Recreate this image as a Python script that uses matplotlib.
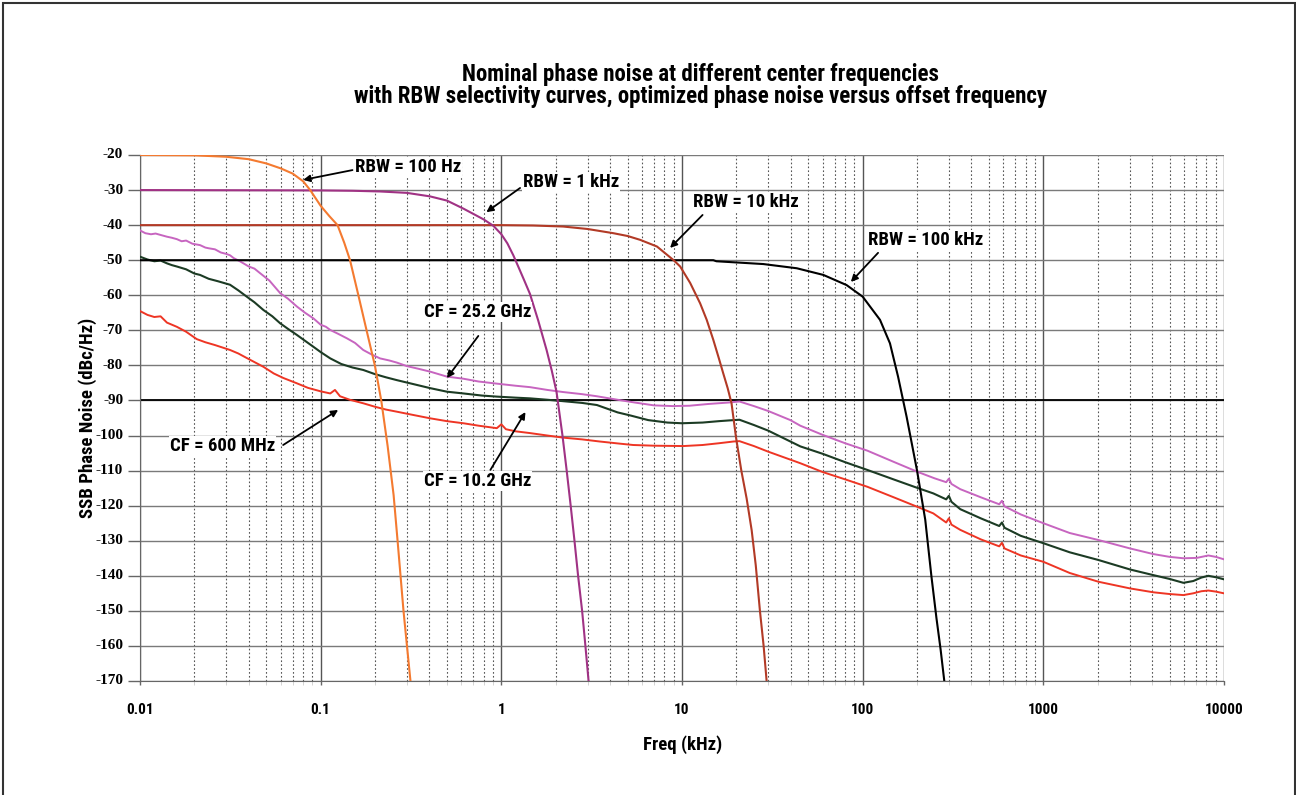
import matplotlib
matplotlib.use('Agg')
import matplotlib.pyplot as plt
from matplotlib import font_manager
from matplotlib.font_manager import FontProperties
from matplotlib.patches import Rectangle
from matplotlib.ticker import LogLocator, NullFormatter


names = {f.name for f in font_manager.fontManager.ttflist}
SANS = next((n for n in ['Roboto Condensed', 'Liberation Sans Narrow', 'Liberation Sans'] if n in names),
            'DejaVu Sans')
SERIF = next((n for n in ['Liberation Serif', 'DejaVu Serif'] if n in names), 'serif')
serif_path = font_manager.findfont(FontProperties(family=SERIF, weight='bold'))
serif_fp = FontProperties(fname=serif_path, size=11)
plt.rcParams['font.family'] = [SANS, 'DejaVu Sans']
plt.rcParams['font.weight'] = 'bold'

# RBW selectivity curves (offset in kHz, level in dBc/Hz)
rbw100_f = [0.01, 0.02, 0.03, 0.04, 0.05, 0.06, 0.07, 0.08, 0.0875, 0.1, 0.112, 0.124, 0.135,
            0.1454, 0.1617, 0.1795, 0.1995, 0.2164, 0.2348, 0.2534, 0.2665, 0.2874, 0.3004, 0.3141]
rbw100_db = [-20.0, -20.1, -20.5, -21.2, -22.4, -23.8, -25.3, -27.5, -30.0, -34.5, -37.5, -40.0, -45.0,
             -50.0, -60.0, -70.0, -80.0, -90.0, -103.0, -117.0, -130.0, -150.0, -160.0, -170.0]

rbw1k_f = [0.01, 0.1, 0.15, 0.213, 0.3, 0.403, 0.5, 0.617, 0.7, 0.8, 0.904, 1.0, 1.08, 1.165,
           1.25, 1.34, 1.44, 1.6, 1.78, 1.9, 2.02, 2.18, 2.3, 2.42, 2.54, 2.66, 2.8, 2.92, 3.04]
rbw1k_db = [-30.0, -30.1, -30.2, -30.4, -30.8, -31.8, -33.0, -35.3, -36.8, -38.4, -40.2, -42.6, -45.2, -48.6,
            -52.2, -55.8, -59.6, -67.2, -75.6, -81.4, -87.5, -100.0, -110.0, -120.0, -130.0, -140.0, -150.0, -160.0, -170.0]

rbw10k_f = [0.01, 1.0, 1.5, 2.2, 3.0, 4.17, 5.0, 5.87, 7.27, 8.99, 9.77, 11.1, 12.6, 13.7, 14.9,
            16.0, 16.9, 17.9, 18.8, 19.9, 21.3, 22.8, 24.3, 25.6, 27.0, 28.3, 29.4]
rbw10k_db = [-40.0, -40.0, -40.1, -40.4, -41.1, -42.3, -43.1, -44.2, -46.1, -50.0, -51.8, -56.5, -62.3, -67.0, -72.7,
             -78.0, -82.2, -86.5, -90.8, -100.5, -110.0, -118.0, -127.0, -137.0, -150.0, -160.0, -170.0]

rbw100k_f = [0.01, 14.9, 15.5, 28.2, 43.2, 60.6, 81.5, 100, 124.7, 141.6, 157, 175, 200,
             222, 240, 256, 270, 283]
rbw100k_db = [-50.0, -50.0, -50.3, -51.1, -52.3, -54.2, -57.1, -60.4, -67.0, -73.7, -83.2, -94.6, -110.0,
              -124.0, -140.0, -152.0, -161.0, -170.0]

# measured phase noise, CF = 25.2 GHz
cf25_f = [0.01, 0.0107, 0.0115, 0.0122, 0.013, 0.0141, 0.015, 0.016, 0.017, 0.018, 0.0195, 0.0215,
          0.023, 0.024, 0.026, 0.028, 0.030, 0.0315, 0.033, 0.036, 0.040, 0.043, 0.0462, 0.052,
          0.0597, 0.066, 0.0738, 0.082, 0.0912, 0.1, 0.107, 0.113, 0.125, 0.14, 0.155, 0.172, 0.19,
          0.213, 0.24, 0.264, 0.3, 0.35, 0.405, 0.5, 0.617, 0.75, 0.944, 1.2, 1.44, 1.8, 2.2, 2.8,
          3.38, 4.4, 5.5, 7.0, 8.9, 11, 14, 18, 20.8, 25, 30, 39.8, 45.2, 60, 80, 106, 150, 200,
          250, 290, 300, 310, 347, 450, 570, 590, 610, 750, 1000, 1400, 2020, 3020, 4060, 5000,
          5960, 7060, 8190, 9000, 10000]
cf25_db = [-41.5, -42.3, -42.6, -42.4, -42.8, -43.3, -43.6, -44.0, -44.6, -44.4, -45.3, -45.7,
           -46.4, -46.6, -46.9, -47.8, -48.2, -48.6, -49.4, -50.4, -51.8, -52.4, -53.7, -55.8,
           -59.4, -61.0, -63.2, -65.0, -66.6, -68.4, -69.0, -69.9, -71.0, -72.3, -73.6, -75.6, -76.8,
           -78.0, -78.6, -79.2, -80.2, -81.0, -81.8, -83.2, -83.8, -84.6, -85.2, -85.8, -86.2, -87.0, -87.6, -88.2,
           -88.8, -89.8, -90.6, -91.4, -91.6, -91.5, -91.0, -90.6, -90.3, -91.6, -93.0, -95.6, -97.2, -99.8, -102.2, -104.3, -107.6, -110.3,
           -112.2, -113.3, -112.3, -113.8, -115.3, -117.6, -119.6, -118.6, -120.2, -122.5, -125.0, -127.8, -129.8, -132.2, -133.8, -134.6,
           -135.0, -134.9, -134.2, -134.6, -135.3]

# measured phase noise, CF = 10.2 GHz
cf10_f = [0.01, 0.011, 0.012, 0.013, 0.0141, 0.015, 0.016, 0.018, 0.02, 0.0215, 0.024, 0.027,
          0.0315, 0.035, 0.039, 0.043, 0.0482, 0.054, 0.0597, 0.066, 0.0738, 0.082, 0.0912, 0.1,
          0.113, 0.13, 0.15, 0.172, 0.2, 0.23, 0.264, 0.33, 0.405, 0.5, 0.617, 0.78, 0.944, 1.2,
          1.44, 1.8, 2.2, 2.8, 3.38, 4.4, 5.2, 6.5, 8.3, 10, 13, 16, 19.3, 20.8, 25, 30, 45.2, 60,
          80, 106, 150, 200, 246, 290, 300, 310, 347, 450, 570, 590, 610, 750, 1000, 1400, 2020,
          3020, 4060, 5000, 5960, 6750, 7500, 8190, 9000, 10000]
cf10_db = [-49.0, -49.8, -50.3, -50.1, -50.9, -51.4, -51.8, -52.6, -53.8, -54.2, -55.3, -56.0,
           -57.0, -58.6, -60.4, -62.0, -64.2, -66.0, -68.0, -69.6, -71.3, -73.0, -74.7, -76.2,
           -78.0, -79.6, -80.6, -81.3, -82.5, -83.4, -84.2, -85.4, -86.5, -87.5, -88.0, -88.6, -88.9, -89.2,
           -89.4, -89.8, -90.2, -90.7, -91.3, -93.4, -94.3, -95.6, -96.3, -96.5, -96.3, -95.9, -95.6, -95.5, -97.0, -98.6, -103.1, -105.2,
           -107.6, -109.8, -112.6, -114.9, -116.5, -118.2, -117.2, -118.9, -121.0, -123.6, -125.8, -124.8, -126.3, -128.6, -130.7, -133.3, -135.5,
           -138.2, -139.8, -140.9, -142.0, -141.5, -140.5, -140.0, -140.4, -141.0]

# measured phase noise, CF = 600 MHz
cf600_f = [0.01, 0.011, 0.012, 0.013, 0.0141, 0.016, 0.018, 0.0206, 0.023, 0.026, 0.0315, 0.035,
           0.04, 0.0482, 0.055, 0.0622, 0.0738, 0.085, 0.1, 0.113, 0.12, 0.128, 0.145, 0.172, 0.2,
           0.23, 0.264, 0.33, 0.405, 0.5, 0.617, 0.75, 0.944, 1.0, 1.06, 1.2, 1.44, 1.8, 2.2, 2.8,
           3.5, 4.5, 5.37, 7, 10.2, 13, 16, 19.3, 20.8, 25, 30, 45.2, 60, 80, 106, 150, 200, 246,
           290, 300, 310, 347, 450, 570, 590, 610, 750, 1000, 1400, 2020, 3020, 4060, 5000, 5960,
           6750, 7500, 8190, 9000, 10000]
cf600_db = [-64.5, -65.6, -66.2, -66.0, -67.8, -69.0, -70.4, -72.5, -73.4, -74.2, -75.6, -76.6,
            -78.2, -80.4, -82.3, -83.6, -85.1, -86.4, -87.4, -88.0, -87.0, -88.8, -89.8, -90.8, -91.8,
            -92.6, -93.2, -94.2, -95.1, -95.9, -96.5, -97.2, -97.9, -96.8, -98.2, -98.8, -99.3, -100.0, -100.6, -101.1,
            -101.7, -102.3, -102.7, -102.9, -103.0, -102.7, -102.2, -101.7, -101.6, -103.0, -104.6, -107.9, -110.4, -112.5, -114.6, -117.7, -120.3, -122.2,
            -124.8, -123.6, -125.4, -126.9, -129.6, -131.6, -130.6, -132.2, -134.2, -136.0, -139.2, -141.7, -143.6, -144.7, -145.2, -145.5,
            -145.0, -144.4, -144.2, -144.5, -145.0]

y_ticks = list(range(-20, -171, -10))
x_ticks = [0.01, 0.1, 1, 10, 100, 1000, 10000]
x_labels = ['0.01', '0.1', '1', '10', '100', '1000', '10000']

fig = plt.figure(figsize=(12.96, 7.95), dpi=100)
ax = fig.add_axes([140 / 1296, 1 - 681 / 795, 1084 / 1296, 526 / 795])

ax.set_xscale('log')
ax.set_xlim(0.01, 10000)
ax.set_ylim(-170, -20)

# grid and ticks
ax.set_yticks(y_ticks)
ax.set_xticks(x_ticks)
ax.set_xticklabels(x_labels)
ax.xaxis.set_minor_locator(LogLocator(base=10, subs=range(2, 10), numticks=20))
ax.xaxis.set_minor_formatter(NullFormatter())
ax.grid(True, which='major', axis='y', color='#7a7a7a', lw=1.0)
ax.grid(True, which='major', axis='x', color='#555555', lw=1.0)
ax.grid(True, which='minor', axis='x', color='#555555', lw=0.8, ls=(0, (1.5, 2.0)))
ax.tick_params(axis='y', which='major', direction='out', length=9, width=1, color='#666666',
               labelleft=False)
ax.tick_params(axis='x', which='major', direction='out', length=3, width=1, color='#666666', pad=13,
               labelsize=11)
ax.tick_params(axis='x', which='minor', length=3, color='#cccccc')
for lab in ax.get_xticklabels():
    lab.set_fontweight('bold')
# y tick labels in the serif face of the original
for v in y_ticks:
    ax.text(-0.0155, v, str(v), transform=ax.get_yaxis_transform(), ha='right', va='center',
            fontproperties=serif_fp)
for s in ['top', 'right']:
    ax.spines[s].set_visible(False)
ax.spines['left'].set_color('#666666')
ax.spines['bottom'].set_color('#666666')

ax.axhline(-90, color='black', lw=1.3, zorder=2)

ax.plot(cf600_f, cf600_db, color='#ee3524', lw=1.4, zorder=3)
ax.plot(cf10_f, cf10_db, color='#1c3b24', lw=1.5, zorder=3)
ax.plot(cf25_f, cf25_db, color='#c765c0', lw=1.4, zorder=3)
ax.plot(rbw100k_f, rbw100k_db, color='black', lw=1.5, zorder=4)
ax.plot(rbw10k_f, rbw10k_db, color='#b23a26', lw=1.5, zorder=4)
ax.plot(rbw1k_f, rbw1k_db, color='#a03284', lw=1.5, zorder=4)
ax.plot(rbw100_f, rbw100_db, color='#f47a30', lw=1.5, zorder=4)

arrow = dict(arrowstyle='-|>', color='black', lw=1.3, mutation_scale=10, shrinkA=0, shrinkB=0)
notes = [
    ((0.080, -27.1), (0.150, -24.3)),
    ((0.826, -36.3), (1.27, -29.4)),
    ((8.59, -46.5), (13.0, -37.1)),
    ((86.0, -56.2), (121.7, -47.9)),
    ((0.50, -83.6), (0.746, -71.6)),
    ((0.125, -92.7), (0.062, -102.7)),
    ((1.36, -93.3), (0.87, -109.8)),
]
for tip, tail in notes:
    ax.annotate('', xy=tip, xytext=tail, arrowprops=arrow, zorder=6)

label_pos = [
    ('RBW = 100 Hz', 0.155, -23.4),
    ('RBW = 1 kHz', 1.32, -27.7),
    ('RBW = 10 kHz', 11.5, -33.4),
    ('RBW = 100 kHz', 107, -44.2),
    ('CF = 25.2 GHz', 0.374, -64.8),
    ('CF = 600 MHz', 0.01466, -103.0),
    ('CF = 10.2 GHz', 0.374, -113.0),
]
for txt, x, y in label_pos:
    ax.text(x, y, txt, fontsize=13.5, fontweight='bold', ha='left', va='center', zorder=7,
            bbox=dict(facecolor='white', edgecolor='none', pad=0.5))

fig.text(701 / 1296, 1 - 75 / 795, 'Nominal phase noise at different center frequencies',
         ha='center', va='center', fontsize=16.5, fontweight='bold')
fig.text(701 / 1296, 1 - 97 / 795,
         'with RBW selectivity curves, optimized phase noise versus offset frequency',
         ha='center', va='center', fontsize=16.5, fontweight='bold')
fig.text(88 / 1296, 1 - 418 / 795, 'SSB Phase Noise (dBc/Hz)', rotation=90,
         ha='center', va='center', fontsize=13.5, fontweight='bold')
fig.text(683 / 1296, 1 - 745 / 795, 'Freq (kHz)', ha='center', va='center',
         fontsize=13.5, fontweight='bold')

fig.patches.append(Rectangle((3 / 1296, -0.01), 1292 / 1296, 1.01 - 3 / 795, transform=fig.transFigure,
                             fill=False, edgecolor='#333333', lw=1.5))

fig.savefig('out.png', dpi=100)
